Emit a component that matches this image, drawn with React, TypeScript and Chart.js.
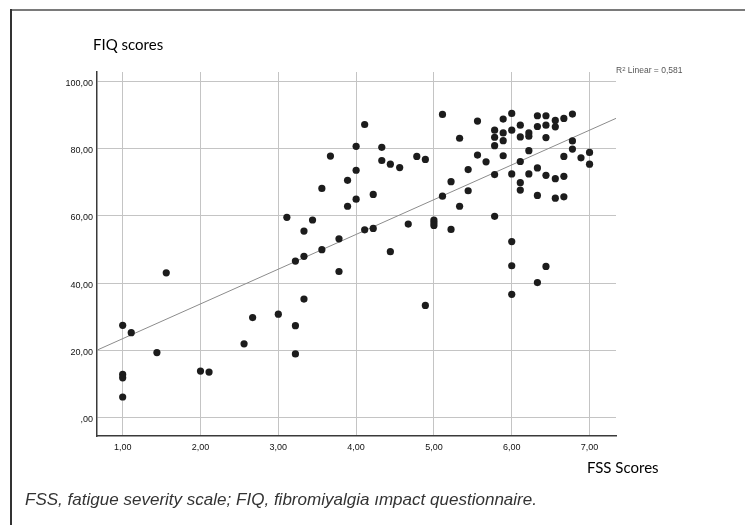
import React, { useEffect, useLayoutEffect, useRef } from 'react';
import { Chart, registerables } from 'chart.js';

Chart.register(...registerables);

// FSS scores (x) and FIQ scores (y)
const FSS = [
  1.00, 1.11, 1.44, 1.56, 1.00, 1.00, 1.00, 2.00, 2.11, 2.56,
  2.67, 3.00, 3.11, 3.22, 3.22, 3.22, 3.33, 3.33, 3.33,
  3.44, 3.56, 3.56, 3.67, 3.78, 3.78, 3.89, 3.89, 4.00, 4.00,
  4.00, 4.11, 4.11, 4.22, 4.22, 4.33, 4.33, 4.44, 4.44, 4.56,
  4.67, 4.78, 4.89, 4.89, 5.00, 5.00, 5.00, 5.11, 5.11, 5.22,
  5.22, 5.33, 5.33, 5.44, 5.44, 5.56, 5.56, 5.67, 5.78, 5.78,
  5.78, 5.78, 5.78, 5.89, 5.89, 5.89, 5.89, 6.00, 6.00, 6.00,
  6.00, 6.00, 6.00,
  6.11, 6.11, 6.11, 6.11, 6.11, 6.22, 6.22, 6.22, 6.22, 6.33,
  6.33, 6.33, 6.33, 6.33, 6.44, 6.44, 6.44, 6.44, 6.44, 6.56,
  6.56, 6.56, 6.56, 6.67, 6.67, 6.67, 6.67, 6.78, 6.78, 6.78,
  6.89, 7.00, 7.00,
];
const FIQ = [
  27.5, 25.3, 19.4, 43.1, 12.9, 11.9, 6.2, 13.9, 13.6, 22.0,
  29.8, 30.8, 59.6, 46.6, 27.4, 19.0, 55.5, 48.0, 35.3,
  58.8, 68.2, 50.0, 77.8, 53.2, 43.5, 70.6, 62.9, 80.7, 73.6,
  65.0, 87.2, 55.9, 66.4, 56.3, 80.4, 76.5, 75.4, 49.4, 74.4,
  57.6, 77.7, 76.8, 33.4, 58.8, 58.0, 57.2, 90.2, 65.9, 70.2,
  56.0, 83.1, 62.9, 73.8, 67.5, 88.2, 78.1, 76.1, 85.5, 83.4,
  80.9, 72.3, 59.9, 88.8, 84.7, 82.4, 77.9, 90.5, 85.5, 72.5,
  52.4, 45.2, 36.7,
  87.0, 83.5, 76.2, 69.9, 67.7, 84.7, 83.7, 79.4, 72.5, 89.8,
  86.6, 74.3, 66.1, 40.2, 89.8, 87.0, 83.3, 72.1, 45.0, 88.4,
  86.5, 71.1, 65.3, 89.0, 77.7, 71.8, 65.7, 90.3, 82.3, 79.9,
  77.3, 78.9, 75.4,
];

const X_TICKS = [1, 2, 3, 4, 5, 6, 7];
const X_TICK_LABELS = ['1,00', '2,00', '3,00', '4,00', '5,00', '6,00', '7,00'];
const Y_TICKS = [0, 20, 40, 60, 80, 100];
const Y_TICK_LABELS = [',00', '20,00', '40,00', '60,00', '80,00', '100,00'];

const X_MIN = 0.67;
const X_MAX = 7.34;
const Y_MIN = -5.4;
const Y_MAX = 102.8;

// Linear fit line as drawn in the reference
const FIT_INTERCEPT = 13.2;
const FIT_SLOPE = 10.33;

const Y_TITLE = 'FIQ scores';
const X_TITLE = 'FSS Scores';
const R2_TEXT = 'Linear = 0,581';
const CAPTION = 'FSS, fatigue severity scale; FIQ, fibromiyalgia \u0131mpact questionnaire.';

const TICK_FONT = { family: '"Liberation Sans", Arial, sans-serif', size: 9 };
const CAPTION_WIDTH = 512;

export default function App() {
  const canvasRef = useRef<HTMLCanvasElement | null>(null);
  const captionRef = useRef<HTMLSpanElement | null>(null);

  useLayoutEffect(() => {
    const el = captionRef.current;
    if (!el) return;
    const w = el.getBoundingClientRect().width;
    if (w > 0) el.style.transform = `scaleX(${CAPTION_WIDTH / w})`;
  }, []);

  useEffect(() => {
    const canvas = canvasRef.current;
    if (!canvas) return;
    const points = FSS.map((x, i) => ({ x, y: FIQ[i] }));
    const fit = [X_MIN, X_MAX].map((x) => ({ x, y: FIT_INTERCEPT + FIT_SLOPE * x }));

    const chart = new Chart(canvas, {
      type: 'scatter',
      data: {
        datasets: [
          {
            label: 'FIQ',
            data: points,
            backgroundColor: '#1c1c1c',
            borderColor: '#1c1c1c',
            borderWidth: 0,
            pointRadius: 3.6,
            order: 1,
          },
          {
            label: 'Fit',
            data: fit,
            showLine: true,
            borderColor: '#8c8c8c',
            borderWidth: 1,
            pointRadius: 0,
            order: 2,
          } as any,
        ],
      },
      options: {
        responsive: false,
        animation: false,
        devicePixelRatio: 1,
        layout: { autoPadding: false, padding: { left: 0, top: 72, right: 129, bottom: 59 } },
        plugins: { legend: { display: false }, tooltip: { enabled: false } },
        scales: {
          x: {
            type: 'linear',
            min: X_MIN,
            max: X_MAX,
            afterBuildTicks: (scale: any) => {
              scale.ticks = X_TICKS.map((v) => ({ value: v }));
            },
            afterFit: (scale: any) => {
              scale.height = 30;
            },
            grid: { color: '#c4c4c4', lineWidth: 1, drawTicks: false },
            border: { display: true, color: '#3a3a3a', width: 1.5 },
            ticks: {
              padding: 6,
              autoSkip: false,
              maxRotation: 0,
              color: '#111',
              font: TICK_FONT,
              callback: (v: any) => X_TICK_LABELS[X_TICKS.indexOf(Number(v))] ?? '',
            },
          },
          y: {
            type: 'linear',
            min: Y_MIN,
            max: Y_MAX,
            afterBuildTicks: (scale: any) => {
              scale.ticks = Y_TICKS.map((v) => ({ value: v }));
            },
            afterFit: (scale: any) => {
              scale.width = 97;
            },
            grid: { color: '#c4c4c4', lineWidth: 1, drawTicks: false },
            border: { display: true, color: '#3a3a3a', width: 1.5 },
            ticks: {
              padding: 4,
              labelOffset: 2,
              autoSkip: false,
              color: '#111',
              font: TICK_FONT,
              callback: (v: any) => Y_TICK_LABELS[Y_TICKS.indexOf(Number(v))] ?? '',
            },
          },
        },
      } as any,
    });
    return () => chart.destroy();
  }, []);

  return (
    <div style={{ position: 'fixed', left: 0, top: 0, width: 745, height: 525, background: '#fff', overflow: 'hidden' }}>
      <canvas ref={canvasRef} width={745} height={525} style={{ position: 'absolute', left: 0, top: 0, width: 745, height: 525 }} />
      <div style={{ position: 'absolute', left: 10, top: 9, width: 735, height: 2, background: '#7a7a7a' }} />
      <div style={{ position: 'absolute', left: 10, top: 9, width: 1.5, height: 516, background: '#333' }} />
      <div style={{ position: 'absolute', left: 93, top: 37, font: '15px Lato, "Open Sans", sans-serif', lineHeight: '15px', color: '#000', whiteSpace: 'nowrap' }}>{Y_TITLE}</div>
      <div style={{ position: 'absolute', left: 587, top: 460, font: '15px Lato, "Open Sans", sans-serif', lineHeight: '15px', color: '#000', whiteSpace: 'nowrap' }}>{X_TITLE}</div>
      <div style={{ position: 'absolute', left: 616, top: 66, font: '8.5px "Liberation Sans", Arial, sans-serif', lineHeight: '9px', color: '#555', whiteSpace: 'nowrap' }}>
        R<sup style={{ fontSize: '6px', verticalAlign: 'top', lineHeight: '6px' }}>2</sup> {R2_TEXT}
      </div>
      <div style={{ position: 'absolute', left: 25, top: 491, font: 'italic 17px "Liberation Sans", Arial, sans-serif', lineHeight: '17px', color: '#333', whiteSpace: 'nowrap' }}>
        <span ref={captionRef} style={{ display: 'inline-block', transformOrigin: 'left center' }}>{CAPTION}</span>
      </div>
    </div>
  );
}
